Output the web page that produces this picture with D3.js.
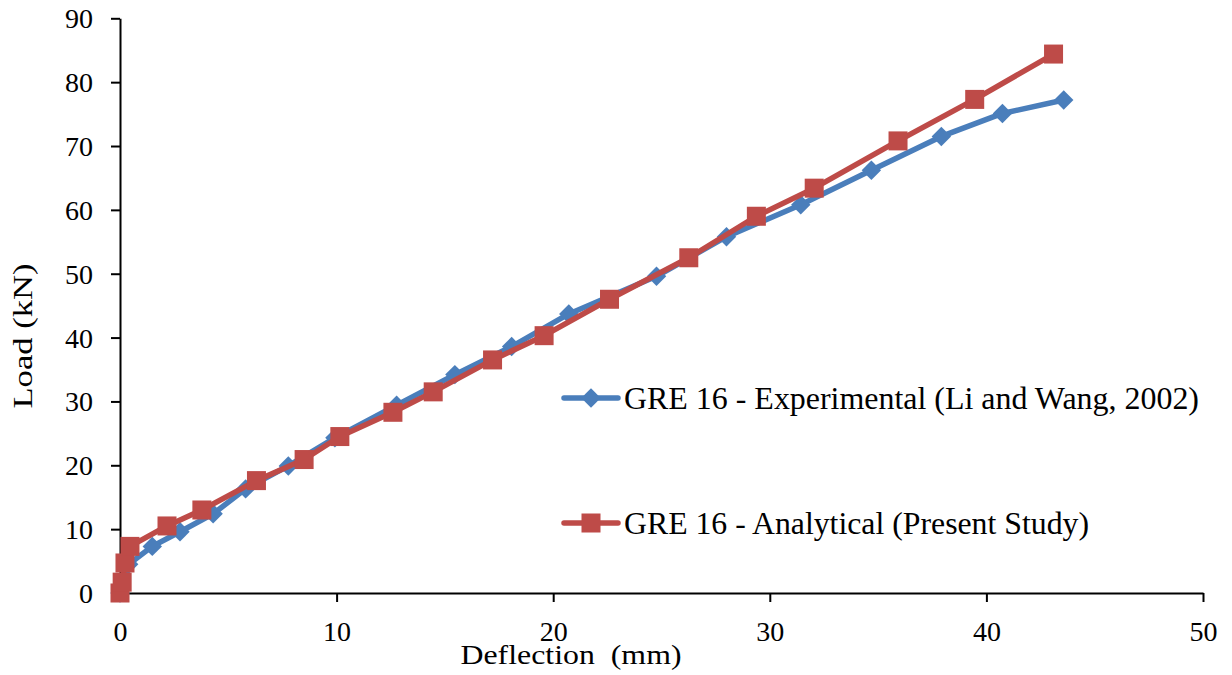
<!DOCTYPE html>
<html><head><meta charset="utf-8">
<script src="https://cdn.jsdelivr.net/npm/d3@7/dist/d3.min.js"></script>
<style>body{margin:0;background:#fff}svg{display:block}</style>
</head><body>
<svg id="c" width="1232" height="675"></svg>
<script>
const xTicks = [0, 10, 20, 30, 40, 50];
const yTicks = [0, 10, 20, 30, 40, 50, 60, 70, 80, 90];
const seriesNames = ["GRE 16 - Experimental (Li and Wang, 2002)", "GRE 16 - Analytical (Present Study)"];
const expX = [0, 0.4, 1.49, 2.77, 4.3, 5.8, 7.77, 9.92, 12.77, 15.46, 18.08, 20.72, 24.77, 28.0, 31.43, 34.69, 37.92, 40.74, 43.57];
const expY = [0, 4.5, 7.3, 9.6, 12.4, 16.3, 19.9, 24.3, 29.4, 34.2, 38.6, 43.7, 49.6, 55.8, 60.8, 66.2, 71.5, 75.1, 77.2];
const anaX = [0, 0.1, 0.23, 0.46, 2.17, 3.78, 6.3, 8.5, 10.15, 12.6, 14.46, 17.2, 19.58, 22.6, 26.26, 29.38, 32.05, 35.92, 39.46, 43.1];
const anaY = [0, 1.7, 4.7, 7.3, 10.5, 13.0, 17.6, 20.9, 24.5, 28.3, 31.5, 36.5, 40.3, 46.0, 52.5, 59.0, 63.4, 70.8, 77.3, 84.4];

const FONT = "Liberation Serif";
const svg = d3.select("#c");
const x = d3.scaleLinear().domain([0, 50]).range([120, 1203]);
const y = d3.scaleLinear().domain([0, 90]).range([593, 18.3]);

const xa = svg.append("g").attr("transform", "translate(0,593)")
  .call(d3.axisBottom(x).tickValues(xTicks).tickSize(9).tickPadding(19).tickSizeOuter(0));
const ya = svg.append("g").attr("transform", "translate(120,0)")
  .call(d3.axisLeft(y).tickValues(yTicks).tickSize(9).tickPadding(18).tickSizeOuter(0));
[xa, ya].forEach(a => {
  a.select(".domain").attr("stroke", "#000").attr("stroke-width", 2);
  a.selectAll(".tick line").attr("stroke", "#000").attr("stroke-width", 2);
  a.selectAll(".tick text").style("font-family", FONT).style("font-size", "28px").attr("fill", "#000");
});
ya.selectAll(".tick text").attr("dy", "0.34em");

svg.append("text").attr("x", 571).attr("y", 664).attr("text-anchor", "middle")
  .style("font-family", FONT).style("font-size", "28px").style("white-space", "pre")
  .attr("textLength", 221).attr("lengthAdjust", "spacingAndGlyphs").text("Deflection  (mm)");
svg.append("text").attr("transform", "translate(32,336) rotate(-90)").attr("text-anchor", "middle")
  .style("font-family", FONT).style("font-size", "28px")
  .attr("textLength", 145).attr("lengthAdjust", "spacingAndGlyphs").text("Load (kN)");

const line = d3.line().x(d => x(d[0])).y(d => y(d[1]));
const series = [
  {name: seriesNames[0], pts: expX.map((v, i) => [v, expY[i]]), color: "#4A7EBB", shape: "diamond", len: 575},
  {name: seriesNames[1], pts: anaX.map((v, i) => [v, anaY[i]]), color: "#BE4B48", shape: "square", len: 465}
];
const diamond = d3.symbol().type(d3.symbolDiamond2).size(240);
function marker(g, shape, color, cx, cy) {
  if (shape === "square") {
    g.append("rect").attr("x", cx - 9.5).attr("y", cy - 9.5).attr("width", 19).attr("height", 19).attr("fill", color);
  } else {
    g.append("path").attr("d", diamond()).attr("transform", `translate(${cx},${cy})`).attr("fill", color);
  }
}
series.forEach(s => {
  const g = svg.append("g");
  g.append("path").datum(s.pts).attr("d", line).attr("fill", "none").attr("stroke", s.color)
    .attr("stroke-width", 5.5).attr("stroke-linejoin", "round").attr("stroke-linecap", "round");
  s.pts.forEach(p => marker(g, s.shape, s.color, x(p[0]), y(p[1])));
});

// legend
const legY = [398, 523];
series.forEach((s, i) => {
  const g = svg.append("g");
  g.append("line").attr("x1", 564).attr("x2", 618).attr("y1", legY[i]).attr("y2", legY[i])
    .attr("stroke", s.color).attr("stroke-width", 5.5).attr("stroke-linecap", "round");
  marker(g, s.shape, s.color, 591, legY[i]);
  g.append("text").attr("x", 624).attr("y", legY[i] + 11)
    .style("font-family", FONT).style("font-size", "32px")
    .attr("textLength", s.len).attr("lengthAdjust", "spacingAndGlyphs").text(s.name);
});
</script>
</body></html>
